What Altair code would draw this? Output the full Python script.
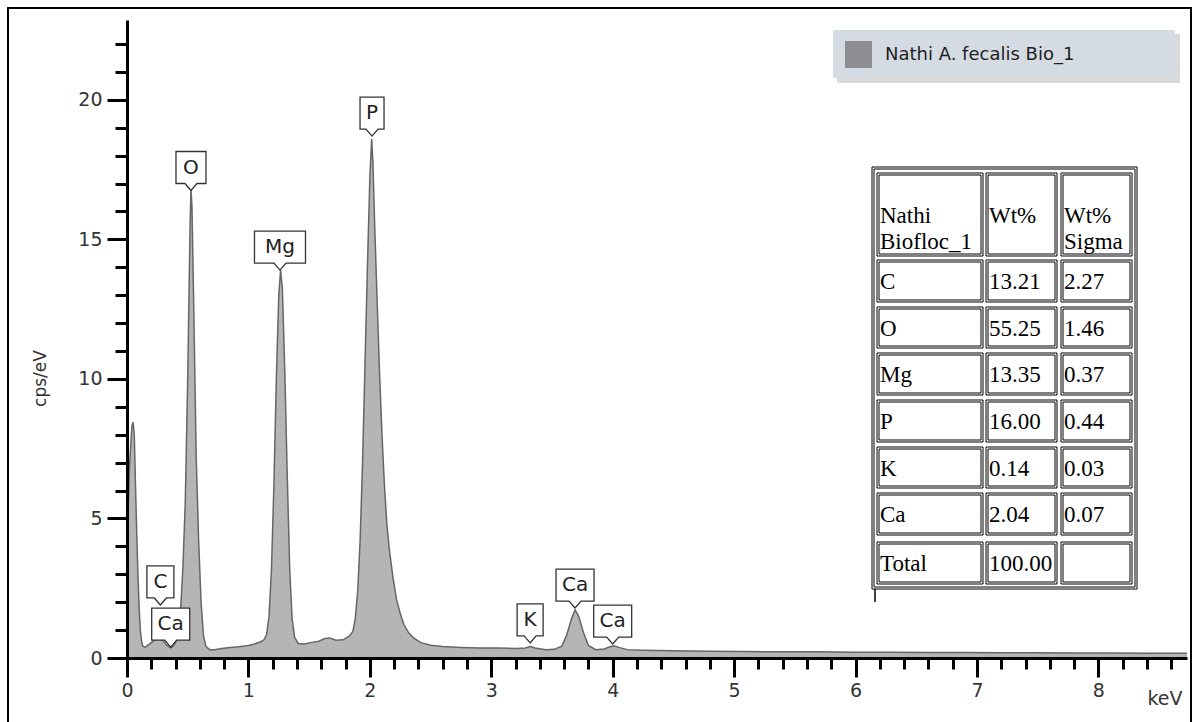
import altair as alt
import pandas as pd

# ---------------- data ----------------
ENERGY = [0.00, 0.02, 0.04, 0.05, 0.06, 0.07, 0.08, 0.09, 0.10, 0.11, 0.12, 0.13, 0.15, 0.17, 0.20,
          0.23, 0.26, 0.28, 0.30, 0.33, 0.36, 0.38, 0.40, 0.42, 0.44, 0.46, 0.48, 0.50, 0.51, 0.52,
          0.527, 0.535, 0.55, 0.56, 0.57, 0.59, 0.61, 0.63, 0.65, 0.68, 0.72, 0.78, 0.85, 0.92, 1.00,
          1.05, 1.10, 1.13, 1.15, 1.17, 1.19, 1.21, 1.23, 1.25, 1.265, 1.28, 1.30, 1.32, 1.34, 1.36,
          1.38, 1.41, 1.46, 1.52, 1.58, 1.63, 1.67, 1.72, 1.78, 1.83, 1.86, 1.88, 1.90, 1.92, 1.94,
          1.96, 1.98, 2.00, 2.015, 2.025, 2.04, 2.06, 2.08, 2.10, 2.12, 2.14, 2.16, 2.19, 2.22, 2.25,
          2.28, 2.32, 2.36, 2.42, 2.50, 2.60, 2.75, 2.90, 3.05, 3.20, 3.28, 3.32, 3.36, 3.45, 3.52,
          3.58, 3.62, 3.66, 3.69, 3.72, 3.76, 3.80, 3.86, 3.93, 3.98, 4.01, 4.05, 4.12, 4.25, 4.50,
          4.80, 5.10, 5.40, 5.70, 6.00, 6.30, 6.60, 6.90, 7.20, 7.50, 7.80, 8.10, 8.40, 8.73]
CPS = [4.0, 6.8, 8.3, 8.45, 8.0, 6.2, 4.5, 3.0, 1.8, 1.0, 0.6, 0.42, 0.38, 0.45, 0.55,
       0.65, 0.72, 0.70, 0.60, 0.45, 0.36, 0.42, 0.55, 0.9, 1.6, 3.2, 5.6, 10.0, 12.8, 15.6,
       16.8, 16.2, 12.5, 9.8, 7.2, 4.2, 2.0, 0.8, 0.42, 0.30, 0.30, 0.34, 0.38, 0.40, 0.45,
       0.50, 0.58, 0.66, 0.85, 1.5, 3.2, 6.2, 10.0, 13.0, 13.9, 13.2, 10.2, 6.5, 3.2, 1.4,
       0.75, 0.52, 0.50, 0.56, 0.60, 0.70, 0.72, 0.64, 0.65, 0.78, 0.95, 1.4, 2.4, 4.2, 7.0,
       10.5, 14.0, 17.2, 18.6, 17.8, 15.5, 12.8, 10.2, 8.0, 6.2, 4.8, 3.9, 2.9, 2.1, 1.6,
       1.2, 0.9, 0.72, 0.55, 0.46, 0.41, 0.38, 0.36, 0.36, 0.34, 0.36, 0.41, 0.36, 0.30, 0.31,
       0.42, 0.80, 1.40, 1.72, 1.50, 0.90, 0.45, 0.30, 0.32, 0.40, 0.44, 0.38, 0.30, 0.28, 0.26,
       0.24, 0.23, 0.22, 0.22, 0.21, 0.21, 0.20, 0.20, 0.19, 0.19, 0.18, 0.18, 0.17, 0.17]
SERIES_NAME = "Nathi A. fecalis Bio_1"

PEAK_ELEMENTS = ["C", "Ca", "O", "Mg", "P", "K", "Ca", "Ca"]
PEAK_ENERGY = [0.275, 0.36, 0.527, 1.26, 2.018, 3.32, 3.69, 4.00]
PEAK_TIP = [1.9, 0.39, 16.75, 13.9, 18.7, 0.54, 1.79, 0.50]

TABLE_HEADER = ["Nathi\nBiofloc_1", "Wt%", "Wt%\nSigma"]
TABLE_ELEMENTS = ["C", "O", "Mg", "P", "K", "Ca", "Total"]
TABLE_WT = ["13.21", "55.25", "13.35", "16.00", "0.14", "2.04", "100.00"]
TABLE_SIGMA = ["2.27", "1.46", "0.37", "0.44", "0.03", "0.07", ""]

X_TICKS = [0, 1, 2, 3, 4, 5, 6, 7, 8]
X_MINOR = [round(0.2 * i, 1) for i in range(44)]
Y_TICKS = [0, 5, 10, 15, 20]
Y_MINOR = list(range(23))

# ---------------- layout / style ----------------
W, H = 1060, 638
PAD_L, PAD_T = 127, 20
SANS = "DejaVu Sans"
SERIF = "Liberation Serif"
BOX_W = {"C": 27, "Ca": 38, "Mg": 51, "O": 30, "P": 24, "K": 26}
COLS = [(877, 983), (986, 1057), (1061, 1132)]
ROWS = [(173, 256), (260, 302), (307, 348), (353, 395), (400, 442), (447, 488), (493, 535), (542, 584)]
OUTER = (872, 1137, 167, 589)


def callout(w, h=32, d=7, n=6):
    hw = w / 2
    return f"M0,0L{-n},{-d}L{-hw},{-d}L{-hw},{-d - h}L{hw},{-d - h}L{hw},{-d}L{n},{-d}Z"


spec = pd.DataFrame({"energy": ENERGY, "cps": CPS, "series": SERIES_NAME})
peaks = pd.DataFrame({"el": PEAK_ELEMENTS, "energy": PEAK_ENERGY, "tip": PEAK_TIP})
peaks["path"] = [callout(BOX_W[e]) for e in PEAK_ELEMENTS]

# table cells
cells, texts = [], []
rows_content = [TABLE_HEADER] + [[e, w, s] for e, w, s in zip(TABLE_ELEMENTS, TABLE_WT, TABLE_SIGMA)]
for r, (y0, y1) in enumerate(ROWS):
    for c, (x0, x1) in enumerate(COLS):
        for inset in (0, 2):
            cells.append({"x0": x0 - PAD_L + inset, "x1": x1 - PAD_L - inset,
                          "y0": y0 - PAD_T + inset, "y1": y1 - PAD_T - inset})
        texts.append({"tx": x0 - PAD_L + 3, "ty": (y0 + y1) / 2 - PAD_T + 1, "t": rows_content[r][c]})
ox0, ox1, oy0, oy1 = OUTER
for inset in (0, 2):
    cells.append({"x0": ox0 - PAD_L + inset, "x1": ox1 - PAD_L - inset,
                  "y0": oy0 - PAD_T + inset, "y1": oy1 - PAD_T - inset})
cells = pd.DataFrame(cells)
texts = pd.DataFrame(texts)

xscale = alt.Scale(domain=[0, 8.73], nice=False, zero=False)
yscale = alt.Scale(domain=[0, 22.86], nice=False, zero=False)

# frame around whole figure
frame = alt.Chart(pd.DataFrame({"a": [0]})).mark_rect(fill=None, stroke="black", strokeWidth=2).encode(
    x=alt.value(8 - PAD_L), x2=alt.value(1191 - PAD_L), y=alt.value(8 - PAD_T), y2=alt.value(740))

legend_shadow = alt.Chart(pd.DataFrame({"a": [0]})).mark_rect(fill="#c9c9c9", opacity=0.7).encode(
    x=alt.value(710), x2=alt.value(1053), y=alt.value(14), y2=alt.value(63))
legend_box = alt.Chart(pd.DataFrame({"a": [0]})).mark_rect(fill="#d5dbe3").encode(
    x=alt.value(706), x2=alt.value(1048), y=alt.value(10), y2=alt.value(58))

legend_pt = alt.Chart(pd.DataFrame({"energy": [5.0], "cps": [0.1], "series": [SERIES_NAME]})).mark_square(size=1).encode(
    x=alt.X("energy:Q", scale=xscale, axis=None),
    y=alt.Y("cps:Q", scale=yscale, axis=None),
    color=alt.Color("series:N", scale=alt.Scale(range=["#8d8d92"]),
                    legend=alt.Legend(title=None, orient="none", legendX=718, legendY=21,
                                      symbolType="square", symbolSize=729, symbolStrokeWidth=0,
                                      symbolOpacity=1, labelFont=SANS, labelFontSize=18,
                                      labelColor="#1e1e1e", labelOffset=13, labelLimit=400,
                                      padding=0)))

area = alt.Chart(spec).mark_area(color="#b5b5b5", opacity=1).encode(
    x=alt.X("energy:Q", scale=xscale,
            axis=alt.Axis(orient="bottom", values=X_TICKS, format="d", tickSize=19, tickWidth=3,
                          tickColor="black", domainColor="black", domainWidth=3, grid=False,
                          labelFont=SANS, labelFontSize=19, labelColor="#333", labelPadding=4,
                          labelFlush=False, zindex=1,
                          title="keV", titleX=1055, titleY=40, titleAlign="right",
                          titleBaseline="middle", titleFont=SANS, titleFontSize=19,
                          titleFontWeight="normal", titleColor="#333")),
    y=alt.Y("cps:Q", scale=yscale,
            axis=alt.Axis(orient="left", values=Y_TICKS, format="d", tickSize=20, tickWidth=3,
                          tickColor="black", domainColor="black", domainWidth=3, grid=False,
                          labelFont=SANS, labelFontSize=19, labelColor="#333", labelPadding=5,
                          zindex=1,
                          title="cps/eV", titleX=-87, titleY=358, titleAngle=270,
                          titleAlign="center", titleBaseline="middle", titleFont=SANS,
                          titleFontSize=17, titleFontWeight="normal", titleColor="#333")),
)

line = alt.Chart(spec).mark_line(color="#666666", strokeWidth=1.5).encode(
    x=alt.X("energy:Q", scale=xscale,
            axis=alt.Axis(orient="bottom", values=X_MINOR, tickSize=11, tickWidth=3, tickColor="black",
                          labels=False, domain=False, grid=False, title=None, zindex=1)),
    y=alt.Y("cps:Q", scale=yscale,
            axis=alt.Axis(orient="left", values=Y_MINOR, tickSize=12, tickWidth=3, tickColor="black",
                          labels=False, domain=False, grid=False, title=None, zindex=1)),
)

boxes = alt.Chart(peaks).mark_point(size=4, filled=True, fill="white", stroke="#333",
                                    strokeWidth=1.3, opacity=1, fillOpacity=1).encode(
    x=alt.X("energy:Q", scale=xscale, axis=None),
    y=alt.Y("tip:Q", scale=yscale, axis=None),
    shape=alt.Shape("path:N", scale=None, legend=None),
)
labels = alt.Chart(peaks).mark_text(dy=-23, font=SANS, fontSize=20, color="#222",
                                    baseline="middle", align="center").encode(
    x=alt.X("energy:Q", scale=xscale, axis=None),
    y=alt.Y("tip:Q", scale=yscale, axis=None),
    text="el:N",
)

table_bg = alt.Chart(pd.DataFrame({"a": [0]})).mark_rect(fill="white").encode(
    x=alt.value(OUTER[0] - PAD_L), x2=alt.value(OUTER[1] - PAD_L),
    y=alt.value(OUTER[2] - PAD_T), y2=alt.value(OUTER[3] - PAD_T))
table_cells = alt.Chart(cells).mark_rect(fill=None, stroke="black", strokeWidth=1).encode(
    x=alt.X("x0:Q", scale=None, axis=None), x2="x1:Q",
    y=alt.Y("y0:Q", scale=None, axis=None), y2="y1:Q")
table_text = alt.Chart(texts).mark_text(font=SERIF, fontSize=23, color="black", align="left",
                                        baseline="middle", lineBreak="\n", lineHeight=26).encode(
    x=alt.X("tx:Q", scale=None, axis=None),
    y=alt.Y("ty:Q", scale=None, axis=None),
    text="t:N")
stub = alt.Chart(pd.DataFrame({"a": [0]})).mark_rule(color="black", strokeWidth=1.5).encode(
    x=alt.value(875 - PAD_L), y=alt.value(OUTER[3] - PAD_T), y2=alt.value(602 - PAD_T))

chart = alt.layer(
    frame, legend_shadow, legend_box, legend_pt, area, line, boxes, labels,
    table_bg, table_cells, table_text, stub
).resolve_axis(x="independent", y="independent").properties(
    width=W, height=H,
    autosize=alt.AutoSizeParams(type="none"),
    padding={"left": PAD_L, "top": PAD_T, "right": 1195 - PAD_L - W, "bottom": 722 - PAD_T - H},
    background="white",
).configure_view(stroke=None)

chart.save("out.html", embed_options={"renderer": "svg", "actions": False})
